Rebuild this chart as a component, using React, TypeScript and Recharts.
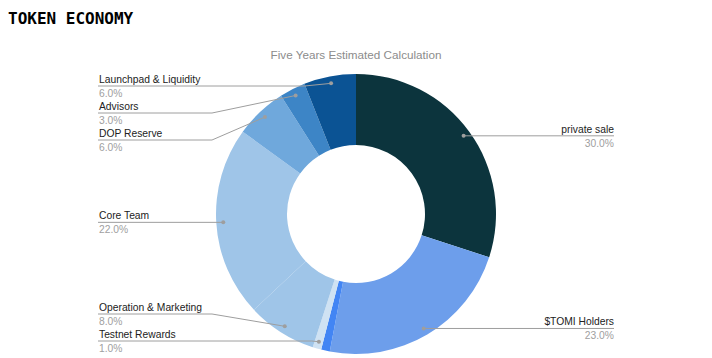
import { PieChart, Pie, Cell } from 'recharts';

const categories = [
  'private sale',
  '$TOMI Holders',
  '',
  'Testnet Rewards',
  'Operation & Marketing',
  'Core Team',
  'DOP Reserve',
  'Advisors',
  'Launchpad & Liquidity',
];
const shares = [30, 23, 1, 1, 8, 22, 6, 3, 6];
const colors = ['#0c343d', '#6d9eeb', '#4285f4', '#cfe2f3', '#9fc5e8', '#9fc5e8', '#6fa8dc', '#3d85c6', '#0b5394'];

const data = categories.map((name, i) => ({ name, value: shares[i] }));

const CX = 356;
const CY = 214;
const INNER = 69;
const OUTER = 140;
const DOT_R = OUTER - 7;
const RAD = Math.PI / 180;
const LEFT_X = 98;
const RIGHT_X = 614;
const GAP = 27;
const MIN_Y = 86;
const MAX_Y = 341;

// where each label's leader line sits, pushed apart so the labels don't overlap
function layoutLabels() {
  const total = shares.reduce((a, b) => a + b, 0);
  let start = 90;
  const items = shares.map((v, i) => {
    const span = (360 * v) / total;
    const mid = start - span / 2;
    start -= span;
    const x = CX + Math.cos(mid * RAD) * DOT_R;
    const y = CY - Math.sin(mid * RAD) * DOT_R;
    return { i, x, y, left: x < CX, ly: y };
  });
  const result: Record<number, number> = {};
  [true, false].forEach((side) => {
    const list = items.filter((it) => it.left === side && categories[it.i]).sort((a, b) => a.y - b.y);
    let prev = -Infinity;
    list.forEach((it) => {
      it.ly = Math.max(it.y, MIN_Y, prev + GAP);
      prev = it.ly;
    });
    let next = Infinity;
    for (let k = list.length - 1; k >= 0; k--) {
      list[k].ly = Math.min(list[k].ly, MAX_Y, next - GAP);
      next = list[k].ly;
    }
    list.forEach((it) => (result[it.i] = it.ly));
  });
  return result;
}

const labelY = layoutLabels();

const renderLabel = (props: any) => {
  const { index, midAngle, percent, name } = props;
  if (!name) return null;
  const dx = CX + Math.cos(midAngle * RAD) * DOT_R;
  const dy = CY - Math.sin(midAngle * RAD) * DOT_R;
  const L = labelY[index] ?? dy;
  const pct = `${(percent * 100).toFixed(1)}%`;
  const left = dx < CX;
  if (left) {
    const elbow = Math.max(212, dx - 10 * Math.abs(dy - L));
    return (
      <g key={`lab-${index}`}>
        <polyline points={`${LEFT_X},${L} ${elbow},${L} ${dx},${dy}`} fill="none" stroke="#9e9e9e" strokeWidth={1} />
        <circle cx={dx} cy={dy} r={2} fill="#9e9e9e" />
        <text x={LEFT_X + 1} y={L - 3} fontSize={10.3} fill="#222" fontFamily="Arial, 'Liberation Sans', sans-serif">
          {name}
        </text>
        <text x={LEFT_X + 1} y={L + 11} fontSize={10.3} fill="#a0a0a0" fontFamily="Arial, 'Liberation Sans', sans-serif">
          {pct}
        </text>
      </g>
    );
  }
  return (
    <g key={`lab-${index}`}>
      <polyline points={`${dx},${dy} ${RIGHT_X},${L}`} fill="none" stroke="#9e9e9e" strokeWidth={1} />
      <circle cx={dx} cy={dy} r={2} fill="#9e9e9e" />
      <text x={RIGHT_X} y={L - 3} fontSize={10.3} fill="#222" textAnchor="end" fontFamily="Arial, 'Liberation Sans', sans-serif">
        {name}
      </text>
      <text x={RIGHT_X} y={L + 11} fontSize={10.3} fill="#a0a0a0" textAnchor="end" fontFamily="Arial, 'Liberation Sans', sans-serif">
        {pct}
      </text>
    </g>
  );
};

export default function App() {
  return (
    <div style={{ position: 'absolute', left: 0, top: 0, width: 712, height: 358, background: '#fff' }}>
      <PieChart width={712} height={358} margin={{ top: 0, right: 0, bottom: 0, left: 0 }}>
        <Pie
          data={data}
          dataKey="value"
          nameKey="name"
          cx={CX}
          cy={CY}
          innerRadius={INNER}
          outerRadius={OUTER}
          startAngle={90}
          endAngle={-270}
          stroke="none"
          labelLine={false}
          label={renderLabel}
          isAnimationActive={false}
        >
          {data.map((entry, index) => (
            <Cell key={`cell-${index}`} fill={colors[index]} />
          ))}
        </Pie>
      </PieChart>
      <svg width={712} height={358} style={{ position: 'absolute', left: 0, top: 0, pointerEvents: 'none' }}>
        <text x={8} y={24} fontSize={16} fontWeight="bold" fill="#000" fontFamily="'DejaVu Sans Mono', monospace">
          TOKEN ECONOMY
        </text>
        <text x={CX} y={59} fontSize={11.7} fill="#8c8c8c" textAnchor="middle" fontFamily="Arial, 'Liberation Sans', sans-serif">
          Five Years Estimated Calculation
        </text>
      </svg>
    </div>
  );
}
